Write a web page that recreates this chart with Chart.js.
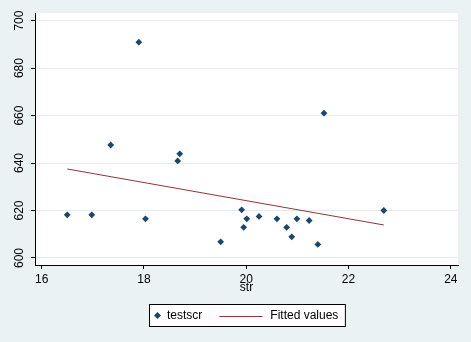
<!DOCTYPE html>
<html>
<head>
<meta charset="utf-8">
<script src="https://cdn.jsdelivr.net/npm/chart.js@4.4.1/dist/chart.umd.min.js"></script>
<style>
  html, body { margin: 0; padding: 0; background: #eaf2f3; }
</style>
</head>
<body>
<canvas id="scatterChart" width="471" height="342"></canvas>
<script>
// Observations: student-teacher ratio (str) vs test score (testscr)
const strValues = [16.50, 16.98, 17.35, 17.90, 18.03, 18.66, 18.70, 19.50, 19.91, 19.95,
                   20.01, 20.25, 20.60, 20.79, 20.89, 20.99, 21.23, 21.40, 21.52, 22.69];
const testscrValues = [618.2, 618.2, 647.6, 690.9, 616.5, 640.9, 643.9, 606.8, 620.3, 612.9,
                       616.5, 617.5, 616.5, 612.9, 608.9, 616.5, 615.8, 605.7, 661.0, 620.0];

// Fitted values line (end points)
const fitX = [16.50, 22.69];
const fitY = [637.5, 613.9];

const xTicks = [16, 18, 20, 22, 24];
const yTicks = [600, 620, 640, 660, 680, 700];
const legendLabels = ["testscr", "Fitted values"];

const FONT = '"Liberation Sans", Arial, sans-serif';
const BG = "#eaf2f3";
const NAVY = "#1a476f";
const MAROON = "#90353b";

// Paint the outer background and the white plot region
const backgroundPlugin = {
  id: "stataBackground",
  beforeDraw(chart) {
    const { ctx, chartArea } = chart;
    ctx.save();
    ctx.fillStyle = BG;
    ctx.fillRect(0, 0, chart.width, chart.height);
    ctx.fillStyle = "#ffffff";
    ctx.fillRect(chartArea.left, chartArea.top,
      chartArea.right - chartArea.left, chartArea.bottom - chartArea.top);
    ctx.restore();
  },
};

// Boxed legend under the axis title
const boxLegendPlugin = {
  id: "boxLegend",
  afterDraw(chart) {
    const { ctx, chartArea } = chart;
    ctx.save();
    ctx.font = "12px " + FONT;
    const w1 = ctx.measureText(legendLabels[0]).width;
    const w2 = ctx.measureText(legendLabels[1]).width;
    const boxW = 4.5 + 7 + 6 + w1 + 17 + 43 + 8 + w2 + 7;
    const boxH = 22;
    const left = Math.round((chartArea.left + chartArea.right) / 2 - boxW / 2) + 0.5;
    const top = Math.round(chartArea.bottom + 39) + 0.5;
    const midY = top + boxH / 2;

    ctx.fillStyle = "#ffffff";
    ctx.fillRect(left, top, boxW, boxH);
    ctx.strokeStyle = "#000000";
    ctx.lineWidth = 1;
    ctx.strokeRect(left, top, boxW, boxH);

    // diamond marker
    let x = left + 4.5 + 3.5;
    ctx.fillStyle = NAVY;
    ctx.beginPath();
    ctx.moveTo(x - 3.5, midY);
    ctx.lineTo(x, midY - 3.5);
    ctx.lineTo(x + 3.5, midY);
    ctx.lineTo(x, midY + 3.5);
    ctx.closePath();
    ctx.fill();

    x += 3.5 + 6;
    ctx.fillStyle = "#000000";
    ctx.textBaseline = "middle";
    ctx.textAlign = "left";
    ctx.fillText(legendLabels[0], x, midY);

    x += w1 + 17;
    ctx.strokeStyle = MAROON;
    ctx.beginPath();
    ctx.moveTo(x, Math.round(midY) + 0.5);
    ctx.lineTo(x + 43, Math.round(midY) + 0.5);
    ctx.stroke();

    x += 43 + 8;
    ctx.fillText(legendLabels[1], x, midY);
    ctx.restore();
  },
};

document.addEventListener("DOMContentLoaded", () => {
  const ctx = document.getElementById("scatterChart").getContext("2d");

  const scatterData = strValues.map((v, i) => ({ x: v, y: testscrValues[i] }));
  const fitData = fitX.map((v, i) => ({ x: v, y: fitY[i] }));

  new Chart(ctx, {
    type: "scatter",
    data: {
      datasets: [
        {
          label: legendLabels[0],
          data: scatterData,
          pointStyle: "rectRot",
          pointRadius: 3.4,
          pointHoverRadius: 3.4,
          backgroundColor: NAVY,
          borderColor: NAVY,
          borderWidth: 0,
        },
        {
          label: legendLabels[1],
          type: "line",
          data: fitData,
          showLine: true,
          pointRadius: 0,
          borderColor: MAROON,
          borderWidth: 1,
          fill: false,
        },
      ],
    },
    options: {
      responsive: false,
      animation: false,
      events: [],
      layout: { padding: { top: 13, right: 13, left: 0, bottom: 42 } },
      plugins: {
        legend: { display: false },
        tooltip: { enabled: false },
      },
      scales: {
        x: {
          type: "linear",
          min: 15.87,
          max: 24.14,
          afterBuildTicks: (s) => { s.ticks = xTicks.map((v) => ({ value: v })); },
          afterFit: (s) => { s.height = 35; },
          ticks: {
            color: "#000000",
            padding: 3,
            font: { family: FONT, size: 12 },
          },
          grid: {
            drawOnChartArea: false,
            tickLength: 4,
            tickColor: "#000000",
          },
          border: { color: "#000000", width: 1 },
          title: {
            display: true,
            text: "str",
            color: "#000000",
            font: { family: FONT, size: 12 },
            padding: { top: 0, bottom: 5 },
          },
        },
        y: {
          type: "linear",
          min: 597.05,
          max: 703.2,
          afterBuildTicks: (s) => { s.ticks = yTicks.map((v) => ({ value: v })); },
          afterFit: (s) => { s.width = 35; },
          ticks: {
            color: "#000000",
            minRotation: 90,
            maxRotation: 90,
            crossAlign: "center",
            padding: 1,
            font: { family: FONT, size: 12 },
          },
          grid: {
            color: "#e2ecee",
            tickLength: 4,
            tickColor: "#000000",
          },
          border: { color: "#000000", width: 1 },
        },
      },
    },
    plugins: [backgroundPlugin, boxLegendPlugin],
  });
});
</script>
</body>
</html>
